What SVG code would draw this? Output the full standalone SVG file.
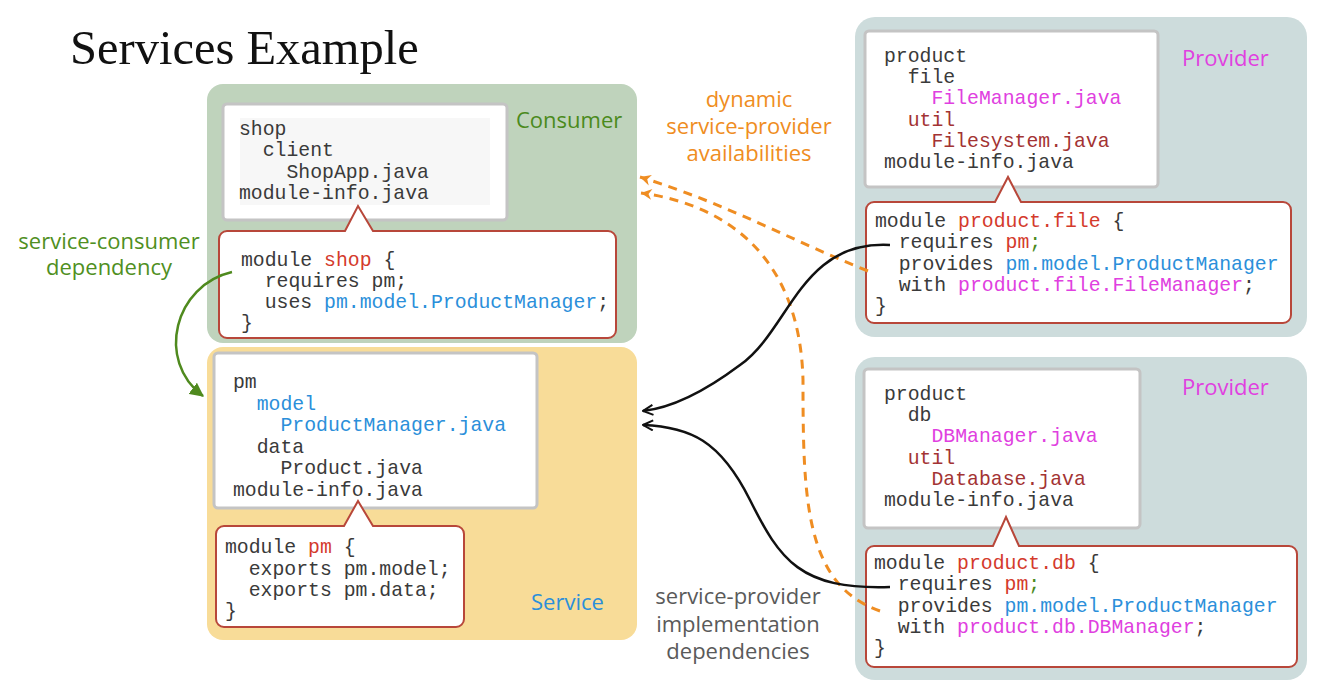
<svg xmlns="http://www.w3.org/2000/svg" width="1324" height="686" viewBox="0 0 1324 686">
<style>
.code{font-family:"Liberation Mono","DejaVu Sans Mono",monospace;font-size:19.8px;fill:#3a3a3a;white-space:pre}
.lbl{font-family:"Open Sans","Noto Sans",sans-serif;font-size:22px}
.tree{fill:#fff;stroke:#c4c4c4;stroke-width:3}
.call{fill:#fff;stroke:#b8473a;stroke-width:2}
.r{fill:#d43a2c}.b{fill:#2b8fda}.m{fill:#e040e0}.d{fill:#a33333}.g{fill:#4b8a1c}
.lg{fill:#4f8f22}.lo{fill:#ef8d22}.lk{fill:#5a5a5a}
</style>
<defs>
<marker id="blk" viewBox="0 0 12 12" refX="11" refY="6" markerWidth="12" markerHeight="12" markerUnits="userSpaceOnUse" orient="auto">
<path d="M1,1 L11,6 L1,11" fill="none" stroke="#111" stroke-width="2"/>
</marker>
<marker id="org" viewBox="0 0 12 12" refX="11" refY="6" markerWidth="13" markerHeight="13" markerUnits="userSpaceOnUse" orient="auto">
<path d="M1,1 L11,6 L1,11 L4,6 Z" fill="#ef8d22"/>
</marker>
<marker id="grn" viewBox="0 0 12 12" refX="11" refY="6" markerWidth="14" markerHeight="14" markerUnits="userSpaceOnUse" orient="auto">
<path d="M0,0 L12,6 L0,12 Z" fill="#4f8a1e"/>
</marker>
</defs>
<rect width="1324" height="686" fill="#fff"/>
<text x="70" y="64" font-family="'Liberation Serif',serif" font-size="48.5" fill="#111">Services Example</text>

<g id="consumer">
<rect x="207" y="84" width="430" height="259" rx="16" fill="#bfd3bc"/>
<rect class="tree" x="223" y="104" width="284" height="116" rx="4"/>
<rect x="240" y="118" width="250" height="87" fill="#f7f7f7"/>
<text class="code" x="239" y="135">shop</text>
<text class="code" x="239" y="156">  client</text>
<text class="code" x="239" y="178">    ShopApp.java</text>
<text class="code" x="239" y="199">module-info.java</text>
<path class="call" d="M227,231 H345 L358,206 L373,231 H608 A8 8 0 0 1 616 239 V330 A8 8 0 0 1 608 338 H227 A8 8 0 0 1 219 330 V239 A8 8 0 0 1 227 231 Z"/>
<text class="code" x="241" y="266">module <tspan class="r">shop</tspan> {</text>
<text class="code" x="241" y="287">  requires pm;</text>
<text class="code" x="241" y="308">  uses <tspan class="b">pm.model.ProductManager</tspan>;</text>
<text class="code" x="241" y="329">}</text>
<text class="lbl g" x="516" y="128">Consumer</text>
</g>

<g id="service">
<rect x="207" y="347" width="430" height="293" rx="16" fill="#f8dc98"/>
<rect class="tree" x="214" y="353" width="323" height="155" rx="4"/>
<text class="code" x="233" y="388">pm</text>
<text class="code" x="233" y="410">  <tspan class="b">model</tspan></text>
<text class="code" x="233" y="431">    <tspan class="b">ProductManager.java</tspan></text>
<text class="code" x="233" y="453">  data</text>
<text class="code" x="233" y="474">    Product.java</text>
<text class="code" x="233" y="496">module-info.java</text>
<path class="call" d="M224,526 H344 L358,501 L373,526 H456 A8 8 0 0 1 464 534 V619 A8 8 0 0 1 456 627 H224 A8 8 0 0 1 216 619 V534 A8 8 0 0 1 224 526 Z"/>
<text class="code" x="225" y="553">module <tspan class="r">pm</tspan> {</text>
<text class="code" x="225" y="575">  exports pm.model;</text>
<text class="code" x="225" y="596">  exports pm.data;</text>
<text class="code" x="225" y="617">}</text>
<text class="lbl b" x="531" y="610">Service</text>
</g>

<g id="provider-file">
<rect x="855" y="17" width="452" height="320" rx="20" fill="#cddcdc"/>
<rect class="tree" x="865" y="31" width="293" height="156" rx="4"/>
<text class="code" x="884" y="62">product</text>
<text class="code" x="884" y="83">  file</text>
<text class="code" x="884" y="104">    <tspan class="m">FileManager.java</tspan></text>
<text class="code" x="884" y="126">  <tspan class="d">util</tspan></text>
<text class="code" x="884" y="147">    <tspan class="d">Filesystem.java</tspan></text>
<text class="code" x="884" y="168">module-info.java</text>
<path class="call" d="M874,202 H995 L1008,177 L1021,202 H1283 A8 8 0 0 1 1291 210 V315 A8 8 0 0 1 1283 323 H874 A8 8 0 0 1 866 315 V210 A8 8 0 0 1 874 202 Z"/>
<text class="code" x="875" y="227">module <tspan class="r">product.file</tspan> {</text>
<text class="code" x="875" y="248">  requires <tspan class="r">pm</tspan><tspan fill="#4b8a1c">;</tspan></text>
<text class="code" x="875" y="270">  provides <tspan class="b">pm.model.ProductManager</tspan></text>
<text class="code" x="875" y="291">  with <tspan class="m">product.file.FileManager</tspan>;</text>
<text class="code" x="875" y="312">}</text>
<text class="lbl m" x="1182" y="66">Provider</text>
</g>

<g id="provider-db">
<rect x="855" y="357" width="452" height="323" rx="20" fill="#cddcdc"/>
<rect class="tree" x="864" y="369" width="276" height="159" rx="4"/>
<text class="code" x="884" y="400">product</text>
<text class="code" x="884" y="421">  db</text>
<text class="code" x="884" y="442">    <tspan class="m">DBManager.java</tspan></text>
<text class="code" x="884" y="464">  <tspan class="d">util</tspan></text>
<text class="code" x="884" y="485">    <tspan class="d">Database.java</tspan></text>
<text class="code" x="884" y="506">module-info.java</text>
<path class="call" d="M874,546 H993 L1006,517 L1019,546 H1289 A8 8 0 0 1 1297 554 V659 A8 8 0 0 1 1289 667 H874 A8 8 0 0 1 866 659 V554 A8 8 0 0 1 874 546 Z"/>
<text class="code" x="874" y="569">module <tspan class="r">product.db</tspan> {</text>
<text class="code" x="874" y="590">  requires <tspan class="r">pm</tspan><tspan fill="#4b8a1c">;</tspan></text>
<text class="code" x="874" y="612">  provides <tspan class="b">pm.model.ProductManager</tspan></text>
<text class="code" x="874" y="633">  with <tspan class="m">product.db.DBManager</tspan>;</text>
<text class="code" x="874" y="654">}</text>
<text class="lbl m" x="1182" y="395">Provider</text>
</g>

<g id="labels" text-anchor="middle">
<text class="lbl lg" x="109" y="249">service-consumer</text>
<text class="lbl lg" x="109" y="275">dependency</text>
<text class="lbl lo" x="749" y="107">dynamic</text>
<text class="lbl lo" x="749" y="134">service-provider</text>
<text class="lbl lo" x="749" y="161">availabilities</text>
<text class="lbl lk" x="738" y="604">service-provider</text>
<text class="lbl lk" x="738" y="632">implementation</text>
<text class="lbl lk" x="738" y="659">dependencies</text>
</g>

<g id="connectors" fill="none">
<path d="M232,272 C175,285 155,360 203,396" stroke="#4f8a1e" stroke-width="2.5" marker-end="url(#grn)"/>
<path d="M868,271 C790,240 730,205 640,177" stroke="#ef8d22" stroke-width="3" stroke-dasharray="9,7" marker-end="url(#org)"/>
<path d="M880,611 C805,585 803,500 803,380 C800,260 730,205 641,193" stroke="#ef8d22" stroke-width="3" stroke-dasharray="9,7" marker-end="url(#org)"/>
<path d="M890,245 C800,240 790,330 740,365 C700,395 670,408 643,411" stroke="#111" stroke-width="2.5" marker-end="url(#blk)"/>
<path d="M890,587 C800,590 780,560 750,500 C720,440 690,427 643,425" stroke="#111" stroke-width="2.5" marker-end="url(#blk)"/>
</g>
</svg>
